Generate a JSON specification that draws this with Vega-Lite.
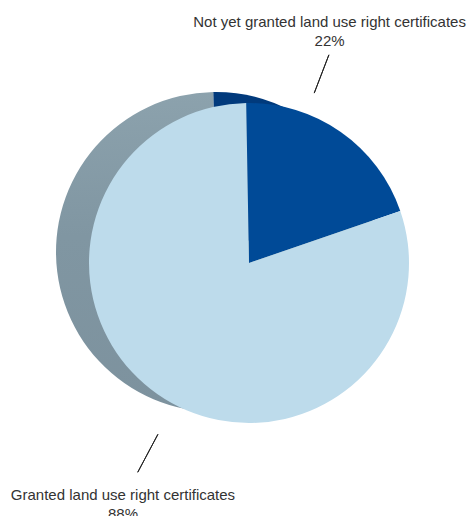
{
  "$schema": "https://vega.github.io/schema/vega-lite/v6.json",
  "width": 442,
  "height": 506,
  "autosize": "none",
  "padding": {"left": 28, "top": 10, "right": 0, "bottom": 0},
  "background": "white",
  "config": {"view": {"stroke": null}},
  "data": {
    "values": [
      {"category": "Not yet granted land use right certificates", "share": 0.22},
      {"category": "Granted land use right certificates", "share": 0.88}
    ]
  },
  "encoding": {
    "theta": {"field": "share", "type": "quantitative", "stack": true, "scale": {"range": [-0.0175, 6.2657]}},
    "order": {"field": "share", "sort": "ascending"}
  },
  "layer": [
    {
      "mark": {"type": "arc", "radius": 160, "xOffset": -33, "yOffset": -11},
      "encoding": {
        "fill": {
          "condition": {"test": "datum.share < 0.5", "value": "#013a7c"},
          "value": {"gradient": "linear", "x1": 0, "y1": 0, "x2": 0, "y2": 1,
            "stops": [{"offset": 0, "color": "#8ca2ad"}, {"offset": 0.45, "color": "#8096a2"}, {"offset": 1, "color": "#7d929e"}]}
        }
      }
    },
    {
      "mark": {"type": "arc", "radius": 160},
      "encoding": {
        "color": {
          "field": "category", "type": "nominal", "legend": null,
          "scale": {"domain": ["Not yet granted land use right certificates", "Granted land use right certificates"], "range": ["#004a97", "#bddbeb"]}
        }
      }
    },
    {
      "mark": {"type": "arc", "radius": 223, "radius2": 182, "thetaOffset": -0.8726, "theta2Offset": -0.8726, "filled": false, "strokeWidth": 1},
      "encoding": {
        "theta": {"field": "share", "type": "quantitative", "stack": null},
        "theta2": {"field": "share"},
        "stroke": {"condition": {"test": "datum.share < 0.5", "value": "#222222"}, "value": "transparent"}
      }
    },
    {
      "mark": {"type": "arc", "radius": 237, "radius2": 194, "thetaOffset": -1.3788, "theta2Offset": -1.3788, "filled": false, "strokeWidth": 1},
      "encoding": {
        "theta": {"field": "share", "type": "quantitative", "stack": null},
        "theta2": {"field": "share"},
        "stroke": {"condition": {"test": "datum.share > 0.5", "value": "#222222"}, "value": "transparent"}
      }
    },
    {
      "mark": {"type": "text", "radius": 245, "thetaOffset": -0.2757, "dy": -9.5, "font": "Liberation Sans", "fontSize": 15, "fill": "#333333"},
      "encoding": {"text": {"field": "category", "type": "nominal", "condition": {"test": "datum.share > 0.5", "value": ""}}}
    },
    {
      "mark": {"type": "text", "radius": 245, "thetaOffset": -0.2757, "dy": 9.5, "font": "Liberation Sans", "fontSize": 15, "fill": "#333333"},
      "encoding": {"text": {"field": "share", "type": "quantitative", "format": ".0%", "condition": {"test": "datum.share > 0.5", "value": ""}}}
    },
    {
      "mark": {"type": "text", "radius": 272, "thetaOffset": -0.1291, "dy": -9.5, "font": "Liberation Sans", "fontSize": 15, "fill": "#333333"},
      "encoding": {"text": {"field": "category", "type": "nominal", "condition": {"test": "datum.share < 0.5", "value": ""}}}
    },
    {
      "mark": {"type": "text", "radius": 272, "thetaOffset": -0.1291, "dy": 9.5, "font": "Liberation Sans", "fontSize": 15, "fill": "#333333"},
      "encoding": {"text": {"field": "share", "type": "quantitative", "format": ".0%", "condition": {"test": "datum.share < 0.5", "value": ""}}}
    }
  ]
}
